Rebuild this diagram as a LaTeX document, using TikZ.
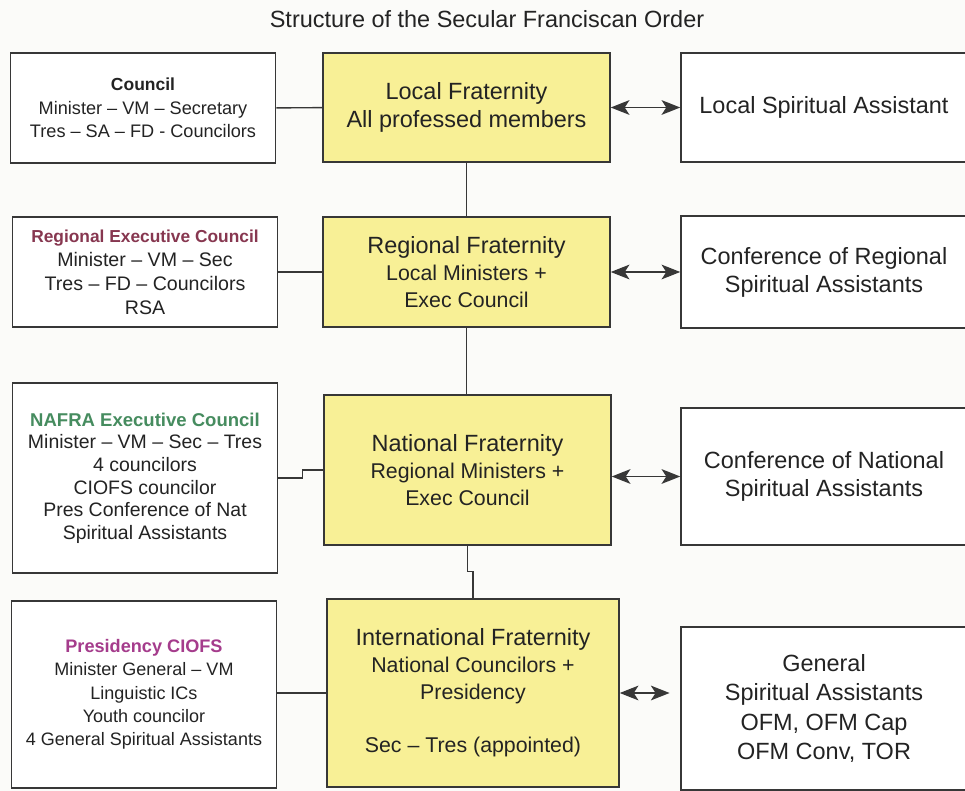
\documentclass[tikz,border=0pt]{standalone}
\usepackage{fontspec}
\setmainfont{Liberation Sans}
\usetikzlibrary{arrows.meta}
\definecolor{ink}{RGB}{35,35,35}
\definecolor{edge}{RGB}{55,55,55}
\definecolor{frat}{RGB}{248,240,150}
\definecolor{paper}{RGB}{251,251,249}
\definecolor{regred}{RGB}{135,55,80}
\definecolor{nafgreen}{RGB}{70,140,95}
\definecolor{cioviolet}{RGB}{165,60,140}

\begin{document}
\begin{tikzpicture}[x=0.75pt,y=-0.75pt,
		every node/.style={text=ink},
		council/.style={rectangle,draw=edge,line width=1.1pt,fill=white,minimum width=199pt,inner sep=0pt,align=center},
		fraternity/.style={rectangle,draw=edge,line width=1.1pt,fill=frat,minimum width=215.25pt,inner sep=0pt,align=center},
		assistant/.style={rectangle,draw=edge,line width=1.1pt,fill=white,minimum width=214.5pt,inner sep=0pt,align=center,font=\fontsize{17.6pt}{21pt}\selectfont},
		link/.style={draw=edge,line width=1.1pt},
		twoway/.style={link,line width=1.3pt,arrows={Stealth[length=14pt,width=11pt,inset=3.5pt]-Stealth[length=14pt,width=11pt,inset=3.5pt]}}]
		\useasboundingbox (0,0) rectangle (965,791);
		\clip (0,0) rectangle (965,791);
		\fill[paper] (0,0) rectangle (965,791);
		\node[anchor=base,font=\fontsize{17.6pt}{21pt}\selectfont] (title) at (487,28) {Structure of the Secular Franciscan Order};
		\node[council,minimum height=82.5pt,font=\fontsize{13.6pt}{17.6pt}\selectfont] (l1) at (143,108) {{\bfseries\fontsize{13.1pt}{17.6pt}\selectfont Council}\\Minister – VM – Secretary\\Tres – SA – FD - Councilors};
		\node[council,minimum height=82.5pt,font=\fontsize{14.7pt}{18pt}\selectfont] (l2) at (145,272) {{\bfseries\fontsize{13pt}{18pt}\selectfont\color{regred}Regional Executive Council}\\Minister – VM – Sec\\Tres – FD – Councilors\\RSA};
		\node[council,minimum height=142.5pt,font=\fontsize{14.6pt}{17pt}\selectfont] (l3) at (145,478) {{\bfseries\fontsize{13.9pt}{17pt}\selectfont\color{nafgreen}NAFRA Executive Council}\\Minister – VM – Sec – Tres\\4 councilors\\CIOFS councilor\\Pres Conference of Nat\\Spiritual Assistants};
		\node[council,minimum height=140.25pt,font=\fontsize{13.5pt}{17.5pt}\selectfont] (l4) at (144,694.5) {{\bfseries\fontsize{13.6pt}{17.5pt}\selectfont\color{cioviolet}Presidency CIOFS}\\Minister General – VM\\Linguistic ICs\\Youth councilor\\4 General Spiritual Assistants};
		\node[fraternity,minimum height=81.75pt,font=\fontsize{17.6pt}{21pt}\selectfont] (y1) at (466.5,107.5) {Local Fraternity\\All professed members};
		\node[fraternity,minimum height=82.5pt,font=\fontsize{16pt}{20pt}\selectfont] (y2) at (466.5,272) {{\fontsize{17.6pt}{21pt}\selectfont Regional Fraternity}\\Local Ministers +\\Exec Council};
		\node[fraternity,minimum height=112.5pt,font=\fontsize{16pt}{20pt}\selectfont] (y3) at (467.5,470) {{\fontsize{17.6pt}{21pt}\selectfont National Fraternity}\\Regional Ministers +\\Exec Council};
		\node[fraternity,minimum width=219pt,minimum height=141pt,font=\fontsize{16pt}{20pt}\selectfont] (y4) at (473,693) {{\fontsize{17.6pt}{21pt}\selectfont International Fraternity}\\National Councilors +\\Presidency\\[20pt]Sec – Tres (appointed)};
		\node[assistant,minimum height=81.75pt] (r1) at (824,107.5) {Local Spiritual Assistant};
		\node[assistant,minimum height=84pt] (r2) at (824,272) {Conference of Regional\\Spiritual Assistants};
		\node[assistant,minimum height=102.75pt] (r3) at (824,476.5) {Conference of National\\Spiritual Assistants};
		\node[assistant,minimum height=122.25pt,font=\fontsize{17.6pt}{22pt}\selectfont] (r4) at (824,708.5) {General\\Spiritual Assistants\\OFM, OFM Cap\\OFM Conv, TOR};
		\draw[link] (l1) -- (y1);
		\draw[link] (l2) -- (y2);
		\draw[link] (l3.east) -- ++(24,0) |- (y3.west);
		\draw[link] (y4.west -| l4.east) -- (y4.west);
		\draw[link] (y1) -- (y2);
		\draw[link] (y2.south) -- (y2.south |- y3.north);
		\draw[link] (y3.south) -- ++(0,26) -| (y4.north);
		\draw[twoway] (y1) -- (r1);
		\draw[twoway] (y2) -- (r2);
		\draw[twoway] (r3.west -| y3.east) -- (r3.west);
		\draw[twoway,shorten >=8pt] (y4.east) -- (y4.east -| r4.west);
\end{tikzpicture}
\end{document}
